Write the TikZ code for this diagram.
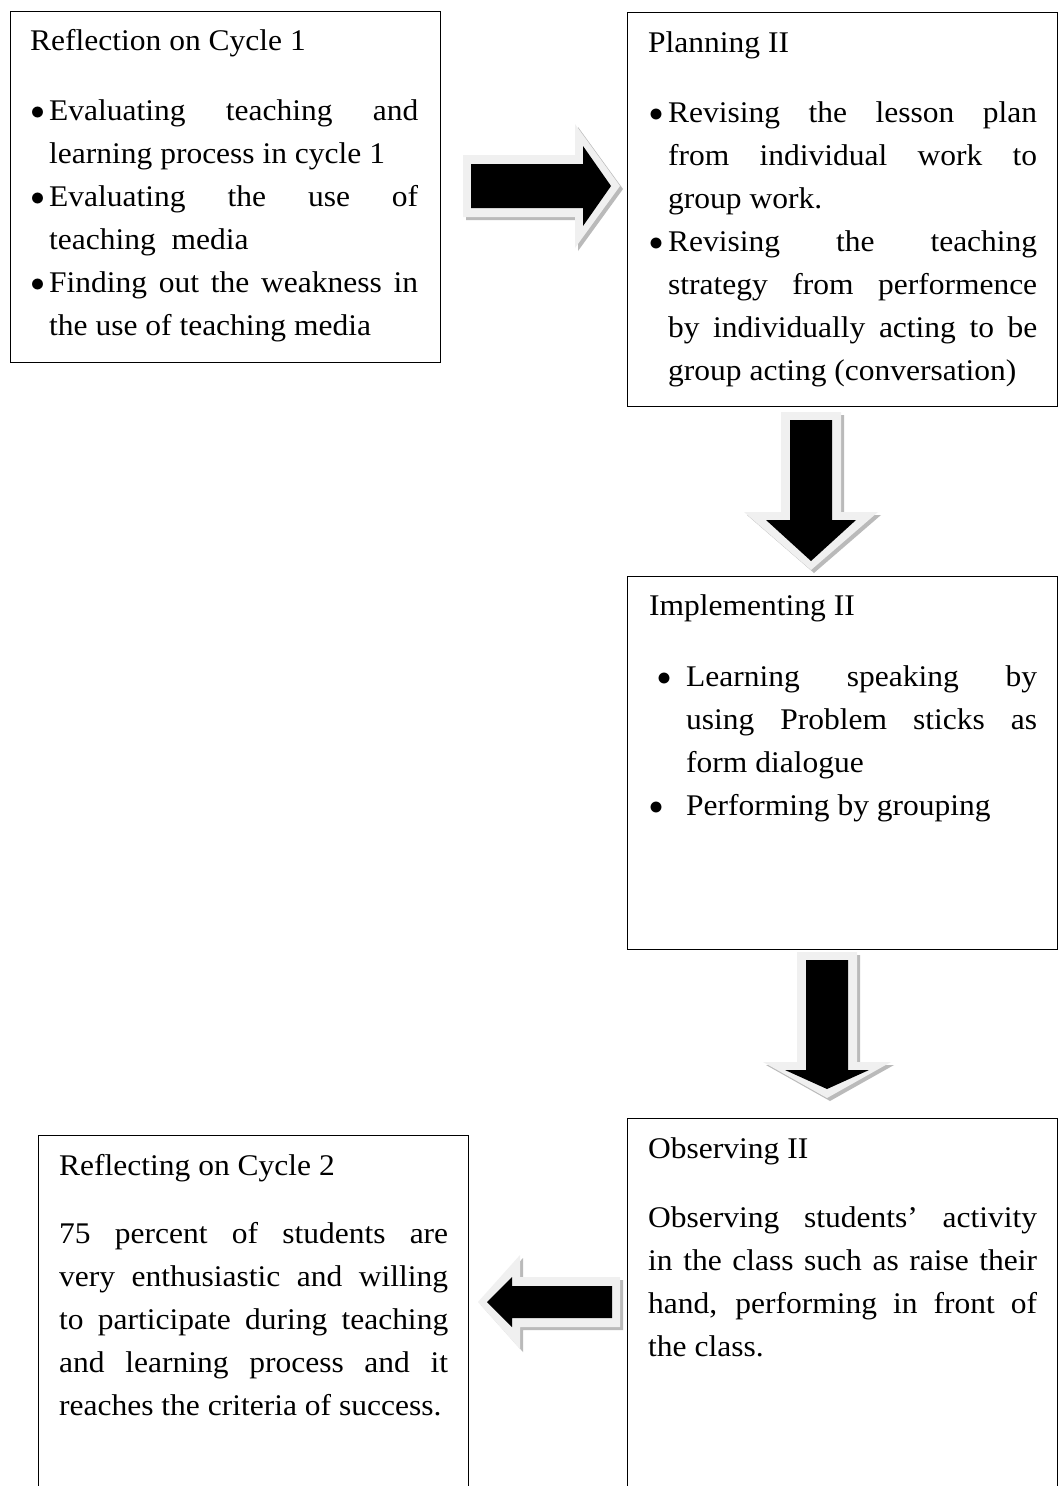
\documentclass[tikz,border=0pt]{standalone}
\usepackage{fontspec}
\setmainfont{Liberation Serif}[FakeStretch=1.05]
\hyphenpenalty=10000
\exhyphenpenalty=10000
\tolerance=9999
% bullet: #1 = distance of bullet centre left of text start
\newcommand\bul[1]{\leavevmode\strut\begin{picture}(0,0)\put(-#1,7.5){\circle*{11}}\end{picture}\ignorespaces}
% block arrow: #1 x, #2 y of tail centre, #3 rotation, #4 length, #5 head base, #6 shaft half width, #7 head half width
\newcommand\blockarrow[7]{%
  \begin{scope}[shift={(#1+3,#2+3)},rotate=#3]
    \fill[arrowshadow] (0,-#6) -- (#5,-#6) -- (#5,-#7) -- (#4,0) -- (#5,#7) -- (#5,#6) -- (0,#6) -- cycle;
  \end{scope}
  \begin{scope}[shift={(#1,#2)},rotate=#3]
    \fill[arrowbevel] (0,-#6) -- (#5,-#6) -- (#5,-#7) -- (#4,0) -- (#5,#7) -- (#5,#6) -- (0,#6) -- cycle;
    \fill[arrowcore] (8,{-(#6-9)}) -- ({#5+8},{-(#6-9)}) -- ({#5+8},{-(#7-22)}) -- ({#4-9},0)
      -- ({#5+8},{#7-22}) -- ({#5+8},{#6-9}) -- (8,{#6-9}) -- cycle;
  \end{scope}}
\tikzset{
  box/.style={draw=black, line width=1.4pt, inner sep=0pt, anchor=north west},
  ttl/.style={anchor=base west, inner sep=0pt, font=\fontsize{30}{43}\selectfont},
  body/.style={anchor=north west, inner sep=0pt, align=justify, font=\fontsize{30}{43}\selectfont},
  arrowshadow/.style={fill=black!27},
  arrowbevel/.style={fill=black!6},
  arrowcore/.style={fill=black},
}
\begin{document}
\begin{tikzpicture}[x=1pt,y=-1pt]
\useasboundingbox (0,0) rectangle (1061,1486);
\clip (0,0) rectangle (1061,1486);
\fill[white] (0,0) rectangle (1061,1486);

% block arrows
\blockarrow{463}{186}{0}{157}{112}{31}{62}
\blockarrow{811}{412}{-90}{158}{100}{30}{67}
\blockarrow{827}{952}{-90}{146}{110}{30}{64}
\blockarrow{620}{1302}{180}{142}{100}{25}{47}

% boxes
\node[box, minimum width=430pt, minimum height=351pt] (b1) at (10,11) {};
\node[box, minimum width=430pt, minimum height=394pt] (b2) at (627,12) {};
\node[box, minimum width=430pt, minimum height=373pt] (b3) at (627,576) {};
\node[box, minimum width=430pt, minimum height=420pt] (b4) at (627,1118) {};
\node[box, minimum width=430pt, minimum height=420pt] (b5) at (38,1135) {};

% Reflection on Cycle 1
\node[ttl] (t1) at (30,50) {Reflection on Cycle 1};
\node[body, text width=369pt] (p1) at (49,89.9) {%
\bul{11.5}Evaluating teaching and\linebreak learning process in cycle 1\par
\bul{11.5}Evaluating the use of\linebreak teaching\ \ media\par
\bul{11.5}Finding out the weakness in\linebreak the use of teaching media};

% Planning II
\node[ttl] (t2) at (648,52) {Planning II};
\node[body, text width=369pt] (p2) at (668,91.9) {%
\bul{12}Revising the lesson plan\linebreak from individual work to\linebreak group work.\par
\bul{12}Revising the teaching\linebreak strategy from performence\linebreak by individually acting to be\linebreak group acting (conversation)};

% Implementing II
\node[ttl] (t3) at (649,615) {Implementing II};
\node[body, text width=351pt] (p3) at (686,655.9) {%
\bul{22}Learning speaking by\linebreak using Problem sticks as\linebreak form dialogue\par
\bul{30}Performing by grouping};

% Observing II
\node[ttl] (t4) at (648,1158) {Observing II};
\node[body, text width=389pt] (p4) at (648,1196.9) {%
\leavevmode\strut Observing students’ activity\linebreak in the class such as raise their\linebreak hand, performing in front of\linebreak the class.};

% Reflecting on Cycle 2
\node[ttl] (t5) at (59,1175) {Reflecting on Cycle 2};
\node[body, text width=389pt] (p5) at (59,1212.9) {%
\leavevmode\strut 75 percent of students are\linebreak very enthusiastic and willing\linebreak to participate during teaching\linebreak and learning process and it\linebreak reaches the criteria of success.};
\end{tikzpicture}
\end{document}
